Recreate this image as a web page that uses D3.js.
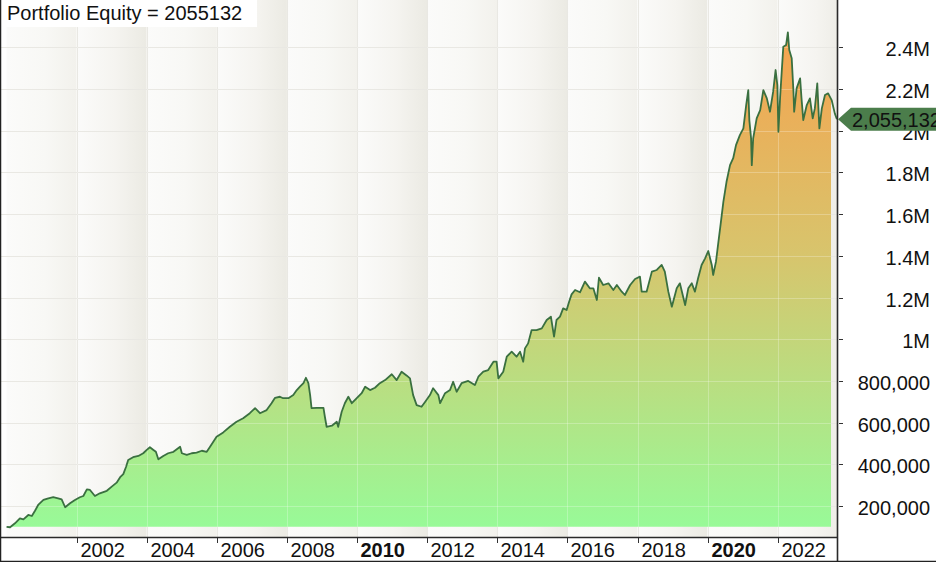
<!DOCTYPE html>
<html><head><meta charset="utf-8">
<script src="https://cdn.jsdelivr.net/npm/d3@7"></script>
<style>html,body{margin:0;padding:0;background:#fff;overflow:hidden} svg{display:block;font-family:"Liberation Sans",Arial,sans-serif;}</style>
</head><body><svg id="c" width="936" height="562"></svg>
<script>
// ---- data (decimal years, equity values) ----
const dates = [2000.00,2000.10,2000.24,2000.38,2000.48,2000.62,2000.72,2000.81,2000.90,2001.05,
2001.19,2001.33,2001.47,2001.57,2001.67,2001.81,2001.95,2002.09,2002.19,2002.29,
2002.38,2002.52,2002.66,2002.86,2003.00,2003.14,2003.24,2003.33,2003.41,2003.47,
2003.61,2003.76,2003.90,2004.00,2004.09,2004.19,2004.26,2004.33,2004.47,2004.61,
2004.76,2004.95,2005.00,2005.14,2005.28,2005.42,2005.57,2005.71,2005.80,2005.99,
2006.18,2006.37,2006.56,2006.75,2006.94,2007.09,2007.23,2007.42,2007.56,2007.66,
2007.80,2007.89,2008.04,2008.18,2008.28,2008.37,2008.47,2008.54,2008.61,2008.66,
2008.70,2008.85,2009.04,2009.08,2009.13,2009.28,2009.42,2009.46,2009.56,2009.65,
2009.75,2009.85,2009.99,2010.13,2010.23,2010.37,2010.51,2010.65,2010.80,2010.99,
2011.13,2011.27,2011.42,2011.51,2011.60,2011.70,2011.84,2011.94,2012.08,2012.17,
2012.32,2012.37,2012.51,2012.65,2012.74,2012.84,2012.98,2013.17,2013.36,2013.46,
2013.60,2013.74,2013.89,2013.98,2014.03,2014.17,2014.27,2014.41,2014.55,2014.65,
2014.74,2014.79,2014.88,2014.98,2015.12,2015.27,2015.41,2015.53,2015.62,2015.69,
2015.79,2015.88,2015.98,2016.05,2016.12,2016.22,2016.36,2016.50,2016.64,2016.74,
2016.84,2016.90,2017.02,2017.17,2017.31,2017.41,2017.55,2017.64,2017.79,2017.93,
2018.07,2018.12,2018.26,2018.41,2018.55,2018.69,2018.78,2018.88,2018.98,2019.12,
2019.21,2019.36,2019.45,2019.55,2019.64,2019.73,2019.83,2019.93,2020.02,2020.12,
2020.16,2020.24,2020.31,2020.37,2020.45,2020.54,2020.64,2020.73,2020.81,2020.92,
2021.02,2021.10,2021.16,2021.19,2021.24,2021.26,2021.30,2021.40,2021.50,2021.59,
2021.69,2021.78,2021.87,2021.94,2021.99,2022.02,2022.07,2022.16,2022.24,2022.29,
2022.33,2022.40,2022.45,2022.47,2022.54,2022.64,2022.68,2022.73,2022.83,2022.92,
2023.00,2023.06,2023.13,2023.19,2023.26,2023.35,2023.44,2023.54,2023.63,2023.69];

const equity = [100000,98000,117000,141000,136000,157000,152000,177000,205000,229000,
237000,242000,237000,232000,194000,213000,229000,242000,248000,280000,
277000,248000,261000,273000,293000,312000,338000,353000,388000,421000,
434000,440000,453000,469000,482000,469000,460000,424000,440000,453000,
460000,484000,453000,445000,453000,456000,465000,460000,483000,532000,
553000,580000,604000,621000,645000,669000,645000,660000,693000,719000,
724000,717000,717000,732000,756000,772000,789000,815000,789000,732000,
669000,671000,671000,628000,580000,585000,604000,580000,652000,693000,
724000,693000,717000,741000,772000,756000,767000,789000,804000,832000,
804000,844000,825000,812000,732000,684000,676000,699000,732000,765000,
732000,693000,741000,756000,796000,748000,789000,800000,780000,820000,
844000,852000,892000,892000,812000,844000,916000,940000,916000,940000,
892000,956000,980000,1044000,1044000,1052000,1092000,1108000,1012000,1092000,
1108000,1148000,1140000,1180000,1215000,1236000,1225000,1276000,1244000,1244000,
1188000,1295000,1260000,1268000,1236000,1260000,1228000,1212000,1260000,1289000,
1300000,1228000,1228000,1324000,1332000,1356000,1324000,1228000,1156000,1244000,
1268000,1164000,1244000,1268000,1228000,1292000,1356000,1388000,1423000,1356000,
1308000,1372000,1468000,1548000,1659000,1755000,1835000,1868000,1931000,1979000,
2011000,2123000,2195000,2051000,1963000,1835000,1963000,2059000,2099000,2195000,
2155000,2091000,2187000,2291000,2219000,1995000,2163000,2403000,2411000,2472000,
2387000,2347000,2187000,2091000,2203000,2251000,2155000,2051000,2123000,2155000,
2059000,2107000,2227000,2011000,2107000,2171000,2179000,2147000,2083000,2055132];

const xTickYears = [2002,2004,2006,2008,2010,2012,2014,2016,2018,2020,2022];
const boldYears = [2010,2020];
const yTickValues = [200000,400000,600000,800000,1000000,1200000,1400000,1600000,1800000,2000000,2200000,2400000];
const bandStartYears = [2000,2002,2004,2006,2008,2010,2012,2014,2016,2018,2020,2022];
const titleLabel = "Portfolio Equity";
const baseValue = 100000;

// ---- layout ----
const W = 936, H = 562;
const plotLeft = 1, plotRight = 837, axisY = 537, fillRight = 831;

function toDate(t){
  const yr = Math.floor(t);
  const s = new Date(yr,0,1), e = new Date(yr+1,0,1);
  return new Date(+s + (t-yr)*(e-s));
}
const data = dates.map((t,i)=>({d:toDate(t), v:equity[i]}));
const last = data[data.length-1];

const x = d3.scaleTime().domain([new Date(2002,0,1), new Date(2022,0,1)]).range([76.7, 777.7]);
const y = d3.scaleLinear().domain([0, 2400000]).range([547.7, 47.3]);

const svg = d3.select("#c");
const defs = svg.append("defs");

svg.append("rect").attr("width",W).attr("height",H).attr("fill","#fff");

// background bands
bandStartYears.forEach((b,i)=>{
  const x0 = Math.max(plotLeft, x(new Date(b,0,1)));
  const x1 = Math.min(plotRight, x(new Date(b+2,0,1)));
  const id = "band"+i;
  const g = defs.append("linearGradient").attr("id",id)
    .attr("gradientUnits","userSpaceOnUse").attr("x1",x0).attr("x2",x(new Date(b+2,0,1))).attr("y1",0).attr("y2",0);
  const dark = (i%2===1);
  g.append("stop").attr("offset","0%").attr("stop-color","#fbfbfa");
  g.append("stop").attr("offset","55%").attr("stop-color", dark ? "#f5f4f0" : "#f8f8f5");
  g.append("stop").attr("offset","100%").attr("stop-color", dark ? "#ebeae3" : "#f2f1ec");
  svg.append("rect").attr("x",x0).attr("y",0).attr("width",x1-x0).attr("height",axisY)
    .attr("fill","url(#"+id+")");
});

// grid
const grid = svg.append("g").attr("stroke","#e2e1da").attr("stroke-width",1);
yTickValues.forEach(v=>{
  grid.append("line").attr("x1",plotLeft).attr("x2",plotRight)
    .attr("y1",Math.round(y(v))+0.5).attr("y2",Math.round(y(v))+0.5);
});
xTickYears.forEach(yr=>{
  const xx = Math.round(x(new Date(yr,0,1)))+0.5;
  grid.append("line").attr("x1",xx).attr("x2",xx).attr("y1",0).attr("y2",axisY);
});

// area gradient
const ag = defs.append("linearGradient").attr("id","areaGrad")
  .attr("gradientUnits","userSpaceOnUse").attr("x1",0).attr("x2",0).attr("y1",y(2500000)).attr("y2",y(baseValue));
ag.append("stop").attr("offset","0%").attr("stop-color","#f6a24e");
ag.append("stop").attr("offset","45%").attr("stop-color","#d8c46c");
ag.append("stop").attr("offset","100%").attr("stop-color","#98fa98");

defs.append("clipPath").attr("id","fillClip").append("rect")
  .attr("x",0).attr("y",0).attr("width",fillRight).attr("height",axisY);

const area = d3.area().x(d=>x(d.d)).y0(y(baseValue)).y1(d=>y(d.v));
svg.append("path").datum(data).attr("d",area).attr("fill","url(#areaGrad)")
  .attr("clip-path","url(#fillClip)");

// grid overlay on fill
const grid2 = svg.append("g").attr("stroke","#ffffff").attr("stroke-opacity",0.25).attr("stroke-width",1);
yTickValues.forEach(v=>{
  grid2.append("line").attr("x1",plotLeft).attr("x2",plotRight)
    .attr("y1",Math.round(y(v))+0.5).attr("y2",Math.round(y(v))+0.5);
});
xTickYears.forEach(yr=>{
  const xx = Math.round(x(new Date(yr,0,1)))+0.5;
  grid2.append("line").attr("x1",xx).attr("x2",xx).attr("y1",0).attr("y2",axisY);
});

// equity line
const line = d3.line().x(d=>x(d.d)).y(d=>y(d.v));
svg.append("path").datum(data).attr("d",line).attr("fill","none")
  .attr("stroke","#3a7040").attr("stroke-width",1.8).attr("stroke-linejoin","round");

// axes lines
svg.append("line").attr("x1",0).attr("x2",plotRight).attr("y1",axisY+0.5).attr("y2",axisY+0.5)
  .attr("stroke","#2a2a2a").attr("stroke-width",1.6);
svg.append("line").attr("x1",plotRight+0.5).attr("x2",plotRight+0.5).attr("y1",0).attr("y2",H)
  .attr("stroke","#2a2a2a").attr("stroke-width",1.6);

// x ticks & labels
const xa = svg.append("g");
xTickYears.forEach(yr=>{
  const xx = Math.round(x(new Date(yr,0,1)))+0.5;
  xa.append("line").attr("x1",xx).attr("x2",xx).attr("y1",axisY+1).attr("y2",axisY+6)
    .attr("stroke","#333").attr("stroke-width",1);
  xa.append("text").attr("x",xx+3).attr("y",557).attr("font-size",20)
    .attr("font-weight", boldYears.includes(yr) ? "bold" : "normal")
    .attr("fill","#111").text(yr);
});

// y ticks & labels
const yfmt = v => v >= 1000000 ? (d3.format("~g")(v/1000000) + "M") : d3.format(",")(v);
const ya = svg.append("g");
yTickValues.forEach(v=>{
  const yy = Math.round(y(v))+0.5;
  ya.append("line").attr("x1",plotRight+2).attr("x2",plotRight+6).attr("y1",yy).attr("y2",yy)
    .attr("stroke","#333").attr("stroke-width",1);
  ya.append("text").attr("x",930).attr("y",yy+8).attr("text-anchor","end").attr("font-size",20)
    .attr("fill","#111").text(yfmt(v));
});

// last value marker
const ly = y(last.v);
svg.append("path")
  .attr("d", `M${plotRight+1},${ly} L${plotRight+14},${ly-11.5} L${W},${ly-11.5} L${W},${ly+11.5} L${plotRight+14},${ly+11.5} Z`)
  .attr("fill","#4b7d4b");
svg.append("text").attr("x",852).attr("y",ly+7.5).attr("font-size",20).attr("fill","#111")
  .text(d3.format(",")(last.v));

// title
svg.append("rect").attr("x",0).attr("y",0).attr("width",257).attr("height",27).attr("fill","#fff");
svg.append("text").attr("x",7).attr("y",20).attr("font-size",20).attr("fill","#111")
  .text(titleLabel + " = " + last.v);

// outer frame
svg.append("line").attr("x1",0.5).attr("x2",0.5).attr("y1",0).attr("y2",H).attr("stroke","#222").attr("stroke-width",1.5);
svg.append("line").attr("x1",0).attr("x2",W).attr("y1",H-0.5).attr("y2",H-0.5).attr("stroke","#222").attr("stroke-width",1.5);
</script></body></html>
